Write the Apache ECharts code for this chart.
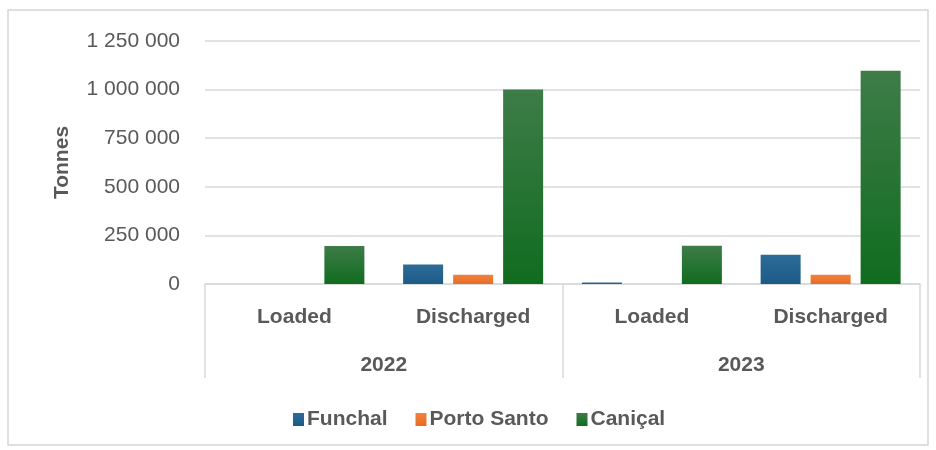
<!DOCTYPE html>
<html>
<head>
<meta charset="utf-8">
<script src="https://cdn.jsdelivr.net/npm/echarts@6/dist/echarts.min.js"></script>
<style>
  html, body { margin: 0; padding: 0; background: #fff; }
  #chart { width: 936px; height: 450px; }
</style>
</head>
<body>
<div id="chart"></div>
<script>
// Cargo handled by port (tonnes), by year and direction
const years = ['2022', '2023'];
const flows = ['Loaded', 'Discharged', 'Loaded', 'Discharged'];
const funchal = [0, 100000, 8000, 150000];
const portoSanto = [0, 48000, 0, 48000];
const canical = [196000, 1000000, 197000, 1097000];
const yTicks = [0, 250000, 500000, 750000, 1000000, 1250000];

const textColor = '#595959';
const sans = '"Liberation Sans", Arial, sans-serif';

function grad(top, bottom) {
  return new echarts.graphic.LinearGradient(0, 0, 0, 1, [
    { offset: 0, color: top },
    { offset: 1, color: bottom }
  ]);
}

function fmt(v) {
  return String(v).replace(/\B(?=(\d{3})+(?!\d))/g, ' ');
}

const chart = echarts.init(document.getElementById('chart'), null, { renderer: 'canvas' });

const barBase = { type: 'bar', barWidth: 40, barGap: '25%', xAxisIndex: 0 };

chart.setOption({
  animation: false,
  backgroundColor: '#ffffff',
  graphic: [{
    type: 'rect',
    shape: { x: 8, y: 10, width: 920, height: 435 },
    style: { fill: 'none', stroke: '#d6d6d6', lineWidth: 1.5 },
    silent: true
  }],
  grid: { left: 205, right: 16, top: 41, bottom: 166 },
  legend: {
    left: 288, top: 404,
    icon: 'rect', itemWidth: 11, itemHeight: 13, itemGap: 28,
    textStyle: { color: textColor, fontFamily: sans, fontWeight: 'bold', fontSize: 21, padding: [0, 0, 0, -2] },
    data: ['Funchal', 'Porto Santo', 'Caniçal']
  },
  xAxis: [{
    type: 'category',
    data: flows,
    position: 'bottom',
    axisLine: { show: true, lineStyle: { color: '#d9d9d9', width: 1.5 } },
    axisTick: { show: false },
    axisLabel: { interval: 0, margin: 23, color: textColor, fontFamily: sans, fontWeight: 'bold', fontSize: 21 }
  }, {
    type: 'category',
    data: years,
    position: 'bottom',
    axisLine: { show: false },
    axisTick: { show: true, interval: 0, length: 94, lineStyle: { color: '#d9d9d9', width: 1.5 } },
    axisLabel: { interval: 0, margin: 71, color: textColor, fontFamily: sans, fontWeight: 'bold', fontSize: 21 }
  }],
  yAxis: {
    type: 'value',
    min: yTicks[0],
    max: yTicks[yTicks.length - 1],
    interval: yTicks[1] - yTicks[0],
    name: 'Tonnes',
    nameLocation: 'middle',
    nameGap: 132,
    nameRotate: 90,
    nameTextStyle: { color: textColor, fontFamily: sans, fontWeight: 'bold', fontSize: 21 },
    axisLine: { show: false },
    axisTick: { show: false },
    splitLine: { lineStyle: { color: '#d9d9d9', width: 1.5 } },
    axisLabel: { color: textColor, fontFamily: sans, fontSize: 21, margin: 25, formatter: fmt }
  },
  series: [
    Object.assign({}, barBase, {
      name: 'Funchal', data: funchal,
      itemStyle: { color: grad('#2d6c98', '#1c5b88') }
    }),
    Object.assign({}, barBase, {
      name: 'Porto Santo', data: portoSanto,
      itemStyle: { color: grad('#f0823f', '#e86c24') }
    }),
    Object.assign({}, barBase, {
      name: 'Caniçal', data: canical,
      itemStyle: { color: grad('#3e7c48', '#106c1f') }
    })
  ]
});
</script>
</body>
</html>
